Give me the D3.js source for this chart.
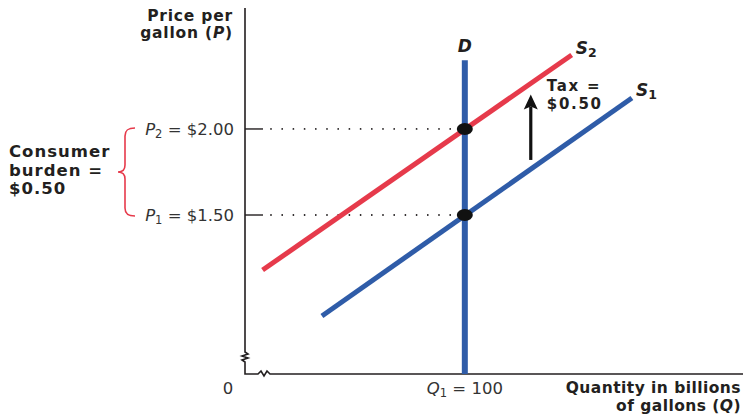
<!DOCTYPE html>
<html>
<head>
<meta charset="utf-8">
<script src="https://cdn.jsdelivr.net/npm/d3@7/dist/d3.min.js"></script>
<style>
  html, body { margin: 0; padding: 0; background: #fff; }
  svg { display: block; }
  .bold { font-family: "DejaVu Sans", sans-serif; font-weight: bold; fill: #231f20; }
  .tick { font-family: "DejaVu Sans", sans-serif; fill: #333; }
</style>
</head>
<body>
<svg id="chart" width="743" height="414"></svg>
<script>
// ---- data ----
const priceTicks = [1.50, 2.00];
const priceTickNames = [{v: "P", s: "1", t: " = $1.50"}, {v: "P", s: "2", t: " = $2.00"}];
const quantityTicks = [0, 100];
const quantityTickNames = [{v: "", s: "", t: "0"}, {v: "Q", s: "1", t: " = 100"}];
const supply1 = [{q: 35, p: 0.913}, {q: 176, p: 2.18}];
const supply2 = [{q: 8, p: 1.18}, {q: 148.6, p: 2.43}];
const demand = [{q: 100, p: 0.576}, {q: 100, p: 2.40}];
const equilibria = [{q: 100, p: 1.50}, {q: 100, p: 2.00}];
const taxArrow = {q: 130, from: 1.82, to: 2.20};
const taxLabel = ["Tax =", "$0.50"];
const burdenLabel = ["Consumer", "burden =", "$0.50"];

// ---- scales ----
const x = d3.scaleLinear().domain([0, 227]).range([245, 744]);
const y = d3.scaleLinear().domain([0.576, 2.703]).range([374, 8]);

const svg = d3.select("#chart");
const RED = "#e63a4b", BLUE = "#2f5ca8", INK = "#231f20";

// ---- axes with break marks ----
const x0 = x(0), y0 = y.range()[0], yTop = y.range()[1];
svg.append("path")
  .attr("d", `M${x0},${yTop} L${x0},${y0-22} l3,2 l-6,2 l6,2 l-6,2 l3,2 L${x0},${y0} L${x0+13},${y0} l3,-3 l3,5 l3,-5 l3,3 L743,${y0}`)
  .attr("fill", "none").attr("stroke", INK).attr("stroke-width", 1.6);

// price ticks + dotted guides
priceTicks.forEach((p, i) => {
  svg.append("line").attr("x1", x0).attr("x2", x0 + 18).attr("y1", y(p)).attr("y2", y(p))
    .attr("stroke", INK).attr("stroke-width", 1.4);
  svg.append("line").attr("x1", x0 + 26).attr("x2", x(100) - 6).attr("y1", y(p)).attr("y2", y(p))
    .attr("stroke", INK).attr("stroke-width", 1.8).attr("stroke-linecap", "round")
    .attr("stroke-dasharray", "0 11.2");
  const n = priceTickNames[i];
  const t = svg.append("text").attr("class", "tick").attr("font-size", 16.5)
    .attr("x", x0 - 11).attr("y", y(p) + 6).attr("text-anchor", "end");
  t.append("tspan").attr("font-style", "italic").text(n.v);
  t.append("tspan").attr("font-size", 11.5).attr("dy", 3).text(n.s);
  t.append("tspan").attr("dy", -3).text(n.t);
});

// quantity tick labels
quantityTicks.forEach((q, i) => {
  const n = quantityTickNames[i];
  const t = svg.append("text").attr("class", "tick").attr("font-size", 16.5)
    .attr("x", q === 0 ? x(q) - 17 : x(q)).attr("y", y0 + 20).attr("text-anchor", "middle");
  if (n.v) {
    t.append("tspan").attr("font-style", "italic").text(n.v);
    t.append("tspan").attr("font-size", 11.5).attr("dy", 3).text(n.s);
    t.append("tspan").attr("dy", -3).text(n.t);
  } else t.text(n.t);
});

// axis titles
const yt = svg.append("text").attr("class", "bold").attr("font-size", 15.5).attr("letter-spacing", 0.8)
  .attr("text-anchor", "end");
yt.append("tspan").attr("x", 233).attr("y", 21).text("Price per");
const yt2 = yt.append("tspan").attr("x", 233).attr("y", 38);
yt2.append("tspan").text("gallon (");
yt2.append("tspan").attr("font-style", "italic").text("P");
yt2.append("tspan").text(")");

const xt = svg.append("text").attr("class", "bold").attr("font-size", 15.5).attr("letter-spacing", 0.45)
  .attr("text-anchor", "end");
xt.append("tspan").attr("x", 741).attr("y", 393).text("Quantity in billions");
const xt2 = xt.append("tspan").attr("x", 741).attr("y", 411);
xt2.append("tspan").text("of gallons (");
xt2.append("tspan").attr("font-style", "italic").text("Q");
xt2.append("tspan").text(")");

// ---- curves ----
const line = d3.line().x(d => x(d.q)).y(d => y(d.p));
svg.append("path").datum(supply2).attr("d", line).attr("stroke", RED).attr("stroke-width", 5).attr("fill", "none");
svg.append("path").datum(supply1).attr("d", line).attr("stroke", BLUE).attr("stroke-width", 5).attr("fill", "none");
svg.append("path").datum(demand).attr("d", line).attr("stroke", BLUE).attr("stroke-width", 6).attr("fill", "none");

// equilibrium points
svg.selectAll("ellipse.eq").data(equilibria).enter().append("ellipse")
  .attr("cx", d => x(d.q)).attr("cy", d => y(d.p)).attr("rx", 8).attr("ry", 6).attr("fill", "#111");

// curve labels
function curveLabel(xp, yp, main, sub) {
  const t = svg.append("text").attr("class", "bold").attr("font-size", 17).attr("x", xp).attr("y", yp)
    .attr("font-style", "italic");
  t.append("tspan").text(main);
  if (sub) t.append("tspan").attr("font-style", "normal").attr("font-size", 12.5).attr("dy", 3).text(sub);
}
const dTop = demand[1];
curveLabel(x(dTop.q) - 7, y(dTop.p) - 8, "D", "");
const s2e = supply2[1], s1e = supply1[1];
curveLabel(x(s2e.q) + 4, y(s2e.p) - 1, "S", "2");
curveLabel(x(s1e.q) + 4, y(s1e.p) - 2, "S", "1");

// tax arrow
const ax = x(taxArrow.q);
svg.append("line").attr("x1", ax).attr("x2", ax).attr("y1", y(taxArrow.from)).attr("y2", y(taxArrow.to) + 12)
  .attr("stroke", "#111").attr("stroke-width", 3.2);
svg.append("path")
  .attr("d", `M${ax},${y(taxArrow.to)} L${ax+7},${y(taxArrow.to)+15} L${ax},${y(taxArrow.to)+12} L${ax-7},${y(taxArrow.to)+15} Z`)
  .attr("fill", "#111");
const tl = svg.append("text").attr("class", "bold").attr("font-size", 15).attr("letter-spacing", 1.7);
taxLabel.forEach((s, i) => tl.append("tspan").attr("x", ax + 16).attr("y", y(taxArrow.to) - 4 + i * 18).text(s));

// consumer burden bracket
const yA = y(2.0) - 1, yB = y(1.5) + 1, ym = (yA + yB) / 2;
svg.append("path")
  .attr("d", `M135,${yA} C128,${yA} 125,${yA+2} 125,${yA+8} L125,${ym-7} C125,${ym-2} 122,${ym} 118,${ym} C122,${ym} 125,${ym+2} 125,${ym+7} L125,${yB-8} C125,${yB-2} 128,${yB} 135,${yB}`)
  .attr("fill", "none").attr("stroke", RED).attr("stroke-width", 1.6);
const bl = svg.append("text").attr("class", "bold").attr("font-size", 16.5).attr("letter-spacing", 1.0);
burdenLabel.forEach((s, i) => bl.append("tspan").attr("x", 9).attr("y", 157 + i * 18.5).text(s));
</script>
</body>
</html>
